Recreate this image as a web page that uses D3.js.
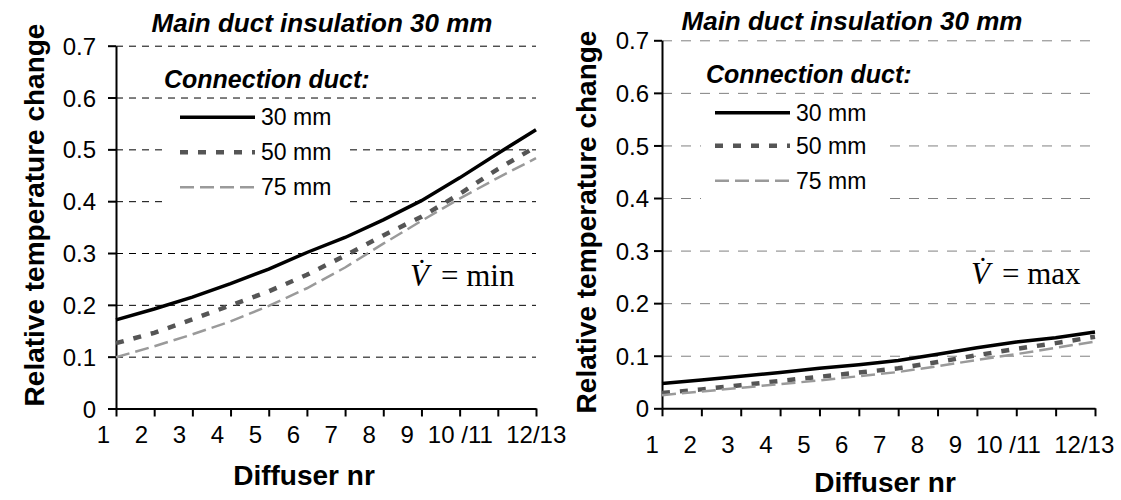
<!DOCTYPE html>
<html>
<head>
<meta charset="utf-8">
<script src="https://cdn.jsdelivr.net/npm/d3@7"></script>
<style>
  body { margin: 0; background: #fff; }
  svg { display: block; }
  text { font-family: "Liberation Sans", Arial, sans-serif; fill: #000; }
  .serif { font-family: "Liberation Serif", "Times New Roman", serif; }
</style>
</head>
<body>
<svg id="chart" width="1121" height="500"></svg>
<script>
// Diffuser positions along the duct (one tick per position)
const diffuserNr = [1, 2, 3, 4, 5, 6, 7, 8, 9, 10, 11, 12];
// Label text under the axis and the diffuser number each label sits at
const xTickLabels = ["1", "2", "3", "4", "5", "6", "7", "8", "9", "10 /11", "12/13"];
const xTickLabelAt = [1, 2, 3, 4, 5, 6, 7, 8, 9, 10.4, 12.4];
const yTicks = [0, 0.1, 0.2, 0.3, 0.4, 0.5, 0.6, 0.7];
const seriesNames = ["30 mm", "50 mm", "75 mm"];

// Relative temperature change, minimum air flow
const minFlow30 = [0.171, 0.192, 0.215, 0.241, 0.269, 0.301, 0.330, 0.364, 0.401, 0.445, 0.492, 0.538];
const minFlow50 = [0.126, 0.146, 0.172, 0.199, 0.226, 0.258, 0.295, 0.334, 0.370, 0.414, 0.462, 0.505];
const minFlow75 = [0.099, 0.120, 0.143, 0.168, 0.198, 0.232, 0.272, 0.318, 0.362, 0.405, 0.445, 0.483];

// Relative temperature change, maximum air flow
const maxFlow30 = [0.047, 0.054, 0.061, 0.068, 0.076, 0.083, 0.091, 0.103, 0.115, 0.126, 0.134, 0.145];
const maxFlow50 = [0.029, 0.036, 0.044, 0.052, 0.060, 0.068, 0.076, 0.088, 0.101, 0.113, 0.124, 0.136];
const maxFlow75 = [0.025, 0.032, 0.039, 0.046, 0.053, 0.061, 0.069, 0.080, 0.092, 0.103, 0.115, 0.127];

const seriesStyle = [
  { stroke: "#000", width: 3.5, dash: null },
  { stroke: "#555", width: 4.5, dash: "8,10" },
  { stroke: "#9a9a9a", width: 2.5, dash: "14,6" }
];

const svg = d3.select("#chart");

function drawPanel(p, values, flowWord) {
  const g = svg.append("g");
  const x = d3.scaleLinear().domain([1, 12]).range([p.left, p.right]);
  const y = d3.scaleLinear().domain([0, 0.7]).range([p.bottom, p.top]);
  const xLab = d3.scaleLinear().domain([1, 13]).range([p.lab0, p.lab0 + 12 * p.labStep]);

  // dashed horizontal gridlines
  g.append("g")
    .attr("transform", `translate(${p.left},0)`)
    .call(d3.axisLeft(y).tickValues(yTicks.slice(1)).tickSize(-(p.right - p.left)).tickFormat(""))
    .call(s => s.select(".domain").remove())
    .selectAll("line")
    .attr("stroke", p.gridColor).attr("stroke-width", 1).attr("stroke-dasharray", p.gridDash);

  // legend backdrop
  g.append("rect")
    .attr("x", p.legBox[0]).attr("y", p.legBox[1])
    .attr("width", p.legBox[2]).attr("height", p.legBox[3])
    .attr("fill", "#fff");

  // y axis
  const ya = g.append("g")
    .attr("transform", `translate(${p.left},0)`)
    .call(d3.axisLeft(y).tickValues(yTicks).tickSizeInner(8).tickSizeOuter(0).tickPadding(p.yPad)
      .tickFormat(d => d === 0 ? "0" : d3.format(".1f")(d)));
  ya.select(".domain").attr("stroke", "#000").attr("stroke-width", 2);
  ya.selectAll("line").attr("stroke", "#000").attr("stroke-width", 2);
  ya.selectAll("text").attr("font-size", 24).attr("fill", "#000").attr("dy", "0.36em");

  // x axis (ticks only)
  const xa = g.append("g")
    .attr("transform", `translate(0,${p.bottom})`)
    .call(d3.axisBottom(x).tickValues(diffuserNr).tickSizeInner(8).tickSizeOuter(0).tickFormat(""));
  xa.select(".domain").attr("stroke", "#000").attr("stroke-width", 2);
  xa.selectAll("line").attr("stroke", "#000").attr("stroke-width", 2);

  // x labels
  const xl = g.append("g")
    .attr("transform", `translate(0,${p.labBase})`)
    .call(d3.axisBottom(xLab).tickValues(xTickLabelAt).tickSize(0).tickPadding(0)
      .tickFormat((d, i) => xTickLabels[i]));
  xl.select(".domain").remove();
  xl.selectAll("text").attr("font-size", 24).attr("fill", "#000").attr("dy", 0)
    .style("white-space", "pre");

  // series lines
  const line = d3.line().x((d, i) => x(diffuserNr[i])).y(d => y(d));
  values.forEach((v, i) => {
    const st = seriesStyle[i];
    g.append("path").datum(v)
      .attr("d", line)
      .attr("fill", "none")
      .attr("stroke", st.stroke)
      .attr("stroke-width", st.width)
      .attr("stroke-dasharray", st.dash);
  });

  // title
  g.append("text")
    .attr("x", p.titleX).attr("y", p.titleY)
    .attr("text-anchor", "middle")
    .attr("font-size", 26).attr("font-weight", "bold").attr("font-style", "italic")
    .text("Main duct insulation 30 mm");

  // axis titles
  g.append("text")
    .attr("transform", `translate(${p.yTitleX},${p.yTitleY}) rotate(-90)`)
    .attr("text-anchor", "middle")
    .attr("font-size", 28).attr("font-weight", "bold")
    .text("Relative temperature change");

  g.append("text")
    .attr("x", p.xTitleX).attr("y", p.xTitleY)
    .attr("text-anchor", "middle")
    .attr("font-size", 28).attr("font-weight", "bold")
    .text("Diffuser nr");

  // legend
  g.append("text")
    .attr("x", p.legTitleX).attr("y", p.legTitleY)
    .attr("font-size", 25).attr("font-weight", "bold").attr("font-style", "italic")
    .text("Connection duct:");

  seriesNames.forEach((name, i) => {
    const st = seriesStyle[i];
    const yy = p.legRows[i];
    g.append("line")
      .attr("x1", p.legX0).attr("x2", p.legX1)
      .attr("y1", yy).attr("y2", yy)
      .attr("stroke", st.stroke).attr("stroke-width", st.width)
      .attr("stroke-dasharray", st.dash);
    g.append("text")
      .attr("x", p.legX1 + 6).attr("y", yy + 8)
      .attr("font-size", 23)
      .text(name);
  });

  // flow rate note
  const note = g.append("text")
    .attr("class", "serif")
    .attr("x", p.noteX).attr("y", p.noteY)
    .attr("font-size", 31);
  note.append("tspan").attr("font-style", "italic").text("V\u0307");
  note.append("tspan").attr("dx", 12).text("= " + flowWord);
}

drawPanel({
  left: 116, right: 536, top: 45.7, bottom: 408.5,
  lab0: 103, labStep: 37.96, labBase: 443,
  yPad: 12, gridColor: "#000", gridDash: "7,6",
  legBox: [168, 101, 178, 106],
  titleX: 322, titleY: 32,
  yTitleX: 44, yTitleY: 215,
  xTitleX: 304, xTitleY: 485,
  legTitleX: 164, legTitleY: 88,
  legX0: 180, legX1: 255, legRows: [117.3, 152.3, 187.3],
  noteX: 410, noteY: 286
}, [minFlow30, minFlow50, minFlow75], "min");

drawPanel({
  left: 662, right: 1095, top: 40.3, bottom: 408.3,
  lab0: 651.7, labStep: 37.9, labBase: 453,
  yPad: 5, gridColor: "#808080", gridDash: "10,9",
  legBox: [701, 96, 182, 107],
  titleX: 852, titleY: 30,
  yTitleX: 596, yTitleY: 222,
  xTitleX: 885, xTitleY: 492,
  legTitleX: 706, legTitleY: 83,
  legX0: 715, legX1: 790, legRows: [112.7, 145.7, 180.7],
  noteX: 971, noteY: 284
}, [maxFlow30, maxFlow50, maxFlow75], "max");
</script>
</body>
</html>
